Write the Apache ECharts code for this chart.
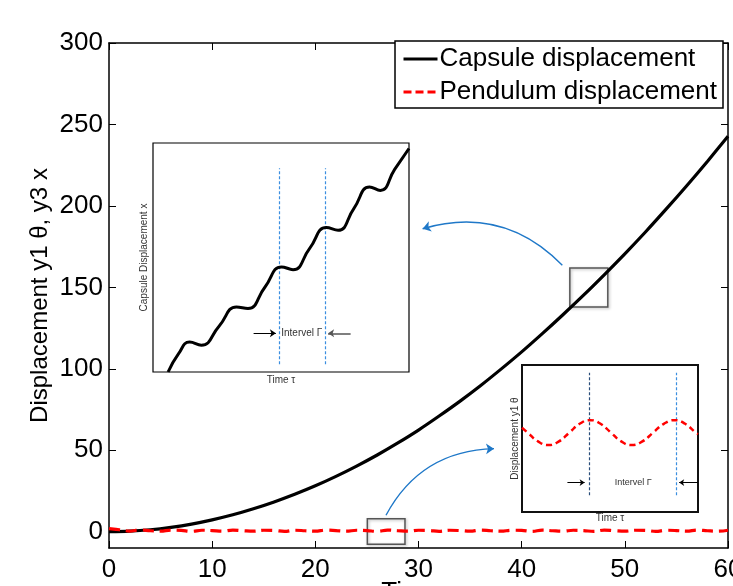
<!DOCTYPE html>
<html>
<head>
<meta charset="utf-8">
<script src="https://cdn.jsdelivr.net/npm/echarts@6/dist/echarts.min.js"></script>
<style>
  html, body { margin: 0; padding: 0; background: #fff; }
  #chart { width: 733px; height: 586px; }
</style>
</head>
<body>
<div id="chart"></div>
<script>
// main plot data (time tau, displacement)
const tau = [0, 2, 4, 6, 8, 10, 12, 14, 16, 18, 20, 22, 24, 26, 28, 30, 32, 34, 36, 38, 40, 42, 44, 46, 48, 50, 52, 54, 56, 58, 60]
const capsule = [0, 0.3, 1.2, 2.7, 4.7, 7.3, 10.4, 14.1, 18.3, 23.0, 28.2, 34.0, 40.3, 47.1, 54.5, 62.4, 71.0, 80.0, 89.6, 99.8, 110.4, 121.6, 133.2, 145.2, 157.7, 170.6, 184.0, 198.0, 212.4, 227.3, 242.7]
const tauP = [0, 1, 2, 3, 4, 5, 6, 7, 8, 9, 10, 11, 12, 13, 14, 15, 16, 17, 18, 19, 20, 21, 22, 23, 24, 25, 26, 27, 28, 29, 30,
  31, 32, 33, 34, 35, 36, 37, 38, 39, 40, 41, 42, 43, 44, 45, 46, 47, 48, 49, 50, 51, 52, 53, 54, 55, 56, 57, 58, 59, 60]
const pendulum = [1.9, 1.2, 0.4, 1.1, 0.6, 0.3, 1.0, 0.8, 0.2, 0.9, 0.7, 0.3, 1.0, 0.6, 0.3, 0.9, 0.8, 0.2, 0.9, 0.6, 0.3, 1.0, 0.7, 0.3, 0.9, 0.7, 0.2, 1.0, 0.6, 0.3, 0.9,
  0.8, 0.2, 0.9, 0.7, 0.3, 1.0, 0.6, 0.3, 0.9, 0.8, 0.2, 1.0, 0.6, 0.3, 0.9, 0.7, 0.2, 1.0, 0.6, 0.3, 0.9, 0.8, 0.2, 0.9, 0.7, 0.3, 1.0, 0.6, 0.3, 0.9]
const yTicks = [0, 50, 100, 150, 200, 250, 300]

// zoomed windows marked on the main plot [tau0, y0, tau1, y1]
const zoomCapsule = [44.67, 137.9, 48.35, 161.9]
const zoomPendulum = [25.04, -7.7, 28.69, 8.0]
// blue pointer arrows (from box to inset)
const arrowCapsule = [[43.94, 163.5], [30.4, 186.0]]
const arrowPendulum = [[26.85, 10.1], [37.32, 51.0]]

// inset 1: capsule close-up (inset units 0..100)
const insetCx = [5.9, 10, 14.3, 18.9, 25.8, 32.6, 37.1, 43.7, 50.2, 54.7, 61.2, 67.7, 72.3, 78.5, 84.6, 88.8, 94.4, 100]
const insetCy = [0, 8, 13.1, 11.7, 20, 28.4, 27.7, 37, 45.9, 44.7, 54, 63.1, 61.9, 71.5, 80.8, 79.3, 88.5, 97.6]
const insetCMarks = [49.2, 67.2]

// inset 2: pendulum close-up (inset units 0..100)
const insetPx = [0, 3.2, 9.1, 15.1, 21, 26.9, 32.8, 38.7, 44.6, 50.5, 56.4, 62.3, 68.4, 74.5, 80.6, 86.8, 92.7, 98.7, 100]
const insetPy = [57.3, 54, 48, 45.5, 48, 54, 60, 62.5, 60, 54, 48, 45.5, 48, 54, 60, 62.5, 60, 54, 53]
const insetPMarks = [38.3, 87.8]

const FONT = "'Liberation Sans', Arial, sans-serif"
const BLUE = '#3a8ee0'
const zip = (a, b) => a.map((v, i) => [v, b[i]])

let chart = echarts.init(document.getElementById('chart'))

const boxStyle = {
  color: 'rgba(0,0,0,0)',
  borderColor: '#555',
  borderWidth: 1.5,
  shadowBlur: 3,
  shadowColor: 'rgba(0,0,0,0.3)',
  shadowOffsetX: 1,
  shadowOffsetY: 1
}

const insetAxis = (grid, name, gap, rotate) => ({
  gridIndex: grid,
  type: 'value',
  min: 0,
  max: 100,
  name: name,
  nameLocation: 'middle',
  nameGap: gap,
  nameRotate: rotate,
  nameMoveOverlap: false,
  nameTextStyle: { fontFamily: FONT, fontSize: 10, color: '#333' },
  axisLine: { show: false },
  axisTick: { show: false },
  axisLabel: { show: false },
  splitLine: { show: false }
})

const mainX = (pos, labels) => ({
  gridIndex: 0,
  type: 'value',
  position: pos,
  min: 0,
  max: 60,
  interval: 10,
  axisLine: { show: true, onZero: false, lineStyle: { color: '#000', width: 1.5 } },
  axisTick: { show: true, inside: true, length: 7, lineStyle: { color: '#000' } },
  axisLabel: { show: labels, color: '#000', fontSize: 26, fontFamily: FONT, margin: 9 },
  splitLine: { show: false }
})

const mainY = (pos, labels) => ({
  gridIndex: 0,
  type: 'value',
  position: pos,
  min: -10,
  max: 300,
  axisLine: { show: true, onZero: false, lineStyle: { color: '#000', width: 1.5 } },
  axisTick: { show: true, inside: true, length: 7, customValues: yTicks, lineStyle: { color: '#000' } },
  axisLabel: { show: labels, customValues: yTicks, color: '#000', fontSize: 26, fontFamily: FONT, margin: 6 },
  splitLine: { show: false }
})

let xMainBottom = mainX('bottom', true)
xMainBottom.name = 'Time τ'
xMainBottom.nameLocation = 'middle'
xMainBottom.nameGap = 32
xMainBottom.nameMoveOverlap = false
xMainBottom.nameTextStyle = { fontFamily: FONT, fontSize: 26, color: '#000' }

let yMainLeft = mainY('left', true)
yMainLeft.name = 'Displacement y1 θ, y3 x'
yMainLeft.nameLocation = 'middle'
yMainLeft.nameGap = 57
yMainLeft.nameMoveOverlap = false
yMainLeft.nameTextStyle = { fontFamily: FONT, fontSize: 24, color: '#000' }

chart.setOption({
  animation: false,
  backgroundColor: '#fff',
  textStyle: { fontFamily: FONT },
  grid: [
    { left: 109, right: 5, top: 43, bottom: 38, outerBoundsMode: 'none', containLabel: false },
    { left: 153, top: 143, width: 256, height: 229, outerBoundsMode: 'none', show: true, backgroundColor: '#fff', borderColor: '#000', borderWidth: 1.2, z: 5 },
    { left: 522, top: 365, width: 176, height: 147, outerBoundsMode: 'none', show: true, backgroundColor: '#fff', borderColor: '#111', borderWidth: 2, z: 5 }
  ],
  legend: {
    data: [
      { name: 'Capsule displacement', lineStyle: { width: 3 } },
      { name: 'Pendulum displacement', lineStyle: { width: 3, type: [8, 4] } }
    ],
    orient: 'vertical',
    right: 10,
    top: 41,
    itemWidth: 34,
    itemHeight: 14,
    itemGap: 7,
    padding: [5, 6, 3, 7],
    backgroundColor: '#fff',
    borderColor: '#000',
    borderWidth: 1.5,
    itemStyle: { opacity: 0 },
    textStyle: { fontFamily: FONT, fontSize: 26, color: '#000', padding: [0, 0, 0, -3] }
  },
  xAxis: [
    xMainBottom,
    mainX('top', false),
    insetAxis(1, 'Time τ', 3, 0),
    insetAxis(2, 'Time τ', 1, 0)
  ],
  yAxis: [
    yMainLeft,
    mainY('right', false),
    insetAxis(1, 'Capsule Displacement x', 4, 90),
    insetAxis(2, 'Displacement y1 θ', 2, 90)
  ],
  series: [
    {
      name: 'Capsule displacement',
      type: 'line',
      xAxisIndex: 0,
      yAxisIndex: 0,
      data: zip(tau, capsule),
      smooth: 0.3,
      symbol: 'none',
      lineStyle: { color: '#000', width: 3.2 },
      itemStyle: { color: '#000' },
      markArea: {
        silent: true,
        label: { show: false },
        itemStyle: boxStyle,
        data: [
          [{ coord: [zoomCapsule[0], zoomCapsule[1]] }, { coord: [zoomCapsule[2], zoomCapsule[3]] }],
          [{ coord: [zoomPendulum[0], zoomPendulum[1]] }, { coord: [zoomPendulum[2], zoomPendulum[3]] }]
        ]
      },
      z: 3
    },
    {
      name: 'Pendulum displacement',
      type: 'line',
      xAxisIndex: 0,
      yAxisIndex: 0,
      data: zip(tauP, pendulum),
      smooth: 0.4,
      symbol: 'none',
      lineStyle: { color: '#ff0000', width: 3.2, type: [11, 6] },
      itemStyle: { color: '#ff0000' },
      z: 4
    },
    {
      name: 'pointer',
      type: 'lines',
      coordinateSystem: 'cartesian2d',
      xAxisIndex: 0,
      yAxisIndex: 0,
      symbol: ['none', 'arrow'],
      symbolSize: 8,
      silent: true,
      lineStyle: { color: '#1f78c8', width: 1.4, opacity: 1 },
      data: [
        { coords: arrowCapsule, lineStyle: { curveness: -0.3 } },
        { coords: arrowPendulum, lineStyle: { curveness: 0.29 } }
      ],
      z: 6
    },
    {
      name: 'inset capsule',
      type: 'line',
      xAxisIndex: 2,
      yAxisIndex: 2,
      data: zip(insetCx, insetCy),
      smooth: 0.5,
      symbol: 'none',
      lineStyle: { color: '#000', width: 3 },
      z: 6,
      markLine: {
        silent: true,
        animation: false,
        label: { show: false },
        symbol: 'none',
        lineStyle: { color: BLUE, width: 1.2, type: [3, 2] },
        data: [
          [{ coord: [insetCMarks[0], 3.4], lineStyle: { color: BLUE } }, { coord: [insetCMarks[0], 89] }],
          [{ coord: [insetCMarks[1], 3.4], lineStyle: { color: BLUE } }, { coord: [insetCMarks[1], 89] }],
          [{ coord: [39.3, 16.9], symbol: 'none', lineStyle: { color: '#000', type: 'solid', width: 1 } }, { coord: [48.0, 16.9], symbol: 'arrow', symbolSize: 6 }],
          [{ coord: [77.2, 16.9], symbol: 'none', lineStyle: { color: '#555', type: 'solid', width: 1.5 } }, { coord: [68.4, 16.9], symbol: 'arrow', symbolSize: 6 }]
        ]
      },
      markPoint: {
        silent: true,
        symbolSize: 0,
        label: { show: true, position: 'inside', formatter: 'Intervel Γ', fontFamily: FONT, fontSize: 10, color: '#333' },
        data: [{ coord: [58.1, 16.9] }]
      }
    },
    {
      name: 'inset pendulum',
      type: 'line',
      xAxisIndex: 3,
      yAxisIndex: 3,
      data: zip(insetPx, insetPy),
      smooth: 0.5,
      symbol: 'none',
      lineStyle: { color: '#ff0000', width: 2.5, type: [6, 4] },
      z: 6,
      markLine: {
        silent: true,
        animation: false,
        label: { show: false },
        symbol: 'none',
        lineStyle: { color: BLUE, width: 1.2, type: [3, 2] },
        data: [
          [{ coord: [insetPMarks[0], 11.4], lineStyle: { color: '#2a4d7a' } }, { coord: [insetPMarks[0], 94.8] }],
          [{ coord: [insetPMarks[1], 11.4], lineStyle: { color: BLUE } }, { coord: [insetPMarks[1], 94.8] }],
          [{ coord: [25.8, 20], symbol: 'none', lineStyle: { color: '#000', type: 'solid', width: 1 } }, { coord: [35.6, 20], symbol: 'arrow', symbolSize: 5 }],
          [{ coord: [100, 20], symbol: 'none', lineStyle: { color: '#000', type: 'solid', width: 1 } }, { coord: [89.3, 20], symbol: 'arrow', symbolSize: 5 }]
        ]
      },
      markPoint: {
        silent: true,
        symbolSize: 0,
        label: { show: true, position: 'inside', formatter: 'Intervel Γ', fontFamily: FONT, fontSize: 9, color: '#333' },
        data: [{ coord: [63.2, 20] }]
      }
    }
  ]
})
</script>
</body>
</html>
